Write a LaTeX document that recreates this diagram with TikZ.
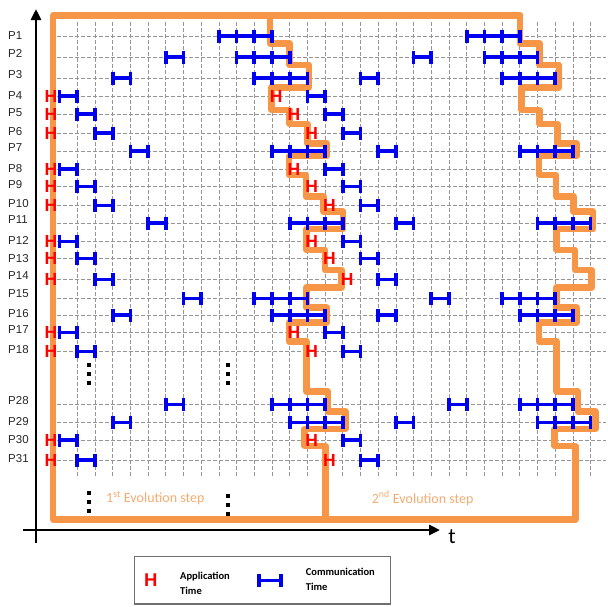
\documentclass[tikz,border=0pt]{standalone}
\usepackage{fontspec}
\setmainfont{Liberation Sans}
\newfontfamily\calib{Carlito}
\usetikzlibrary{arrows.meta}
\definecolor{orng}{HTML}{F79646}
\definecolor{orngtxt}{HTML}{F5AB70}
\definecolor{barblue}{RGB}{0,0,240}
\definecolor{gridgray}{HTML}{959595}
\definecolor{boxgray}{HTML}{6E6E6E}
\begin{document}
\begin{tikzpicture}[x=1pt,y=-1pt,
  gridline/.style={gridgray, line width=0.8pt, dash pattern=on 3.5pt off 2.5pt},
  orangeline/.style={orng, line width=6.5pt, line join=round, line cap=round},
  barline/.style={barblue, line width=3.4pt},
  barcap/.style={barblue, line width=3.7pt},
  hmark/.style={text=red, font=\fontsize{17.5}{17.5}\selectfont\bfseries, inner sep=0pt},
  plabel/.style={anchor=west, font=\fontsize{11.5}{12}\selectfont, text=black!85, inner sep=0pt},
  evotext/.style={anchor=west, text=orngtxt, font=\calib\fontsize{14}{14}\selectfont, inner sep=0pt},
  legtext/.style={anchor=west, font=\calib\bfseries\fontsize{10.5}{11}\selectfont, inner sep=0pt},
  axisline/.style={line width=2.8pt, -{Triangle[length=11pt,width=10pt]}},
  dotsq/.style={fill=black, minimum size=4pt, inner sep=0pt, draw=none}]
\useasboundingbox (0,0) rectangle (608,606);

% grid
\foreach \k in {1,...,30}{
  \draw[gridline] ({59.6+17.7*\k},22) -- ({59.6+17.7*\k},478);
}
\foreach \yy in {36,57,78,96,114,133,151,169,186.7,205.7,223,241.7,258.3,279.3,298.3,315,332.7,351.7,404.3,422.7,440,460}{
  \draw[gridline] (57,\yy) -- (606,\yy);
}

% orange evolution outlines
\draw[orangeline] (520,15.5) -- (53,15.5) -- (53,519.5) -- (575.3,519.5);
\foreach \s in {0,250}{
\begin{scope}[xshift=\s pt]
\draw[orangeline] (270,15.5) |- (289.6,43.3) |- (309,65) |- (271.3,87.3) |- (289.6,110)
  |- (307.5,124) |- (326.7,143.3) |- (289,156) |- (306,175) |- (323.3,196.7)
  |- (343.2,211.7) |- (306.7,229) |- (325,250) |- (341.7,270) |- (306.7,287.5)
  |- (326.7,307.5) |- (289,322.5) |- (306.7,341.7) |- (328,391.7) |- (345.3,411.7)
  |- (304.5,429) |- (325.3,446) -- (325.3,519.5);
\end{scope}
}

% communication bars
\foreach \y/\cs in {36/{9,10,11,23,24,25},
  57/{6,10,11,12,20,24,25,26},
  78/{3,11,12,13,17,25,26,27},
  96/{0,14}, 114/{1,15}, 133/{2,16},
  151/{4,12,13,14,18,26,27,28},
  169/{0,15}, 186.7/{1,16}, 205.7/{2,17},
  223/{5,13,14,15,19,27,28,29},
  241.7/{0,16}, 258.3/{1,17}, 279.3/{2,18},
  298.3/{7,11,12,13,21,25,26,27},
  315/{3,12,13,14,18,26,27,28},
  332.7/{0,15}, 351.7/{1,16},
  404.3/{6,12,13,14,22,26,27,28},
  422.7/{3,13,14,15,19,27,28,29},
  440/{0,16}, 460/{1,17}}{
  \foreach \c in \cs {
    \pgfmathsetmacro\xa{59.6+17.7*\c}
    \pgfmathsetmacro\xb{\xa+17.7}
    \draw[barline] (\xa,\y) -- (\xb,\y);
    \draw[barcap] (\xa,{\y-6.5}) -- (\xa,{\y+6.5});
    \draw[barcap] (\xb,{\y-6.5}) -- (\xb,{\y+6.5});
  }
}

% application marks
\foreach \y/\k [count=\i] in {96/12,114/13,133/14,169/13,186.7/14,205.7/15,241.7/14,258.3/15,279.3/16,332.7/13,351.7/14,440/14,460/15}{
  \node[hmark] (hl\i) at (51,\y) {H};
  \node[hmark] (hm\i) at ({63.9+17.7*\k},\y) {H};
}

% row labels
\foreach \n/\yy in {1/36,2/53.3,3/74.3,4/96,5/112.7,6/131.7,7/147.3,8/169,9/185,10/203.3,11/220,12/240,13/258.3,14/276,15/293.3,16/313.3,17/330,18/349.3,28/401,29/421.7,30/440,31/458.3}{
  \node[plabel] (p\n) at (8,\yy) {P\n};
}

% axes
\draw[axisline] (36,543) -- (36,9);
\draw[axisline] (23,530) -- (440,530);
\node[font=\calib\fontsize{22}{22}\selectfont, inner sep=0pt] (tlab) at (452,537) {t};

% ellipsis dots
\foreach \xx/\yy [count=\i] in {89/365,89/374,89/383,228/365,228/374,228/383,89/493,89/502,89/511,228.3/496,228.3/505,228.3/514}{
  \node[dotsq] (d\i) at (\xx,\yy) {};
}

% evolution step labels
\node[evotext] (evo1) at (106,498.3) {1\textsuperscript{st} Evolution step};
\node[evotext] (evo2) at (371.7,498.3) {2\textsuperscript{nd} Evolution step};

% legend
\draw[boxgray, line width=1.2pt] (134.3,556.7) rectangle (390.7,604);
\node[hmark, font=\fontsize{18.5}{18.5}\selectfont\bfseries] (legH) at (150.7,580) {H};
\node[legtext] (app1) at (180,577) {Application};
\node[legtext] (app2) at (180,591) {Time};
\draw[barline] (259.3,580.7) -- (281,580.7);
\draw[barcap] (259.3,574.2) -- (259.3,587.2);
\draw[barcap] (281,574.2) -- (281,587.2);
\node[legtext] (com1) at (305.7,572) {Communication};
\node[legtext] (com2) at (305.7,587) {Time};
\end{tikzpicture}
\end{document}
